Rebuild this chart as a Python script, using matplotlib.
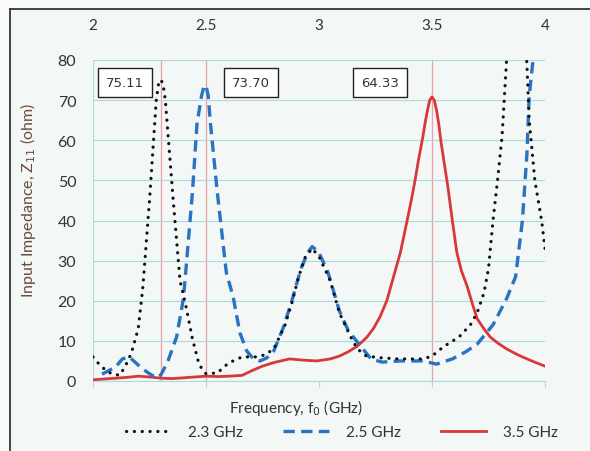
"""
Input impedance Z11 vs frequency for three antenna designs (2.3 / 2.5 / 3.5 GHz).
"""

import matplotlib

matplotlib.use("Agg")
import matplotlib.pyplot as plt
from matplotlib.lines import Line2D

plt.rcParams["font.family"] = ["Lato", "DejaVu Sans"]

# --- data --------------------------------------------------------------------
F_23 = [2.00, 2.03, 2.06, 2.09, 2.12, 2.15, 2.17, 2.20, 2.22, 2.25, 2.28, 2.29,
        2.30, 2.31, 2.32, 2.355, 2.385, 2.41, 2.44, 2.47, 2.50, 2.55, 2.60, 2.66,
        2.72, 2.76, 2.80, 2.85, 2.88, 2.91, 2.94, 2.97, 3.00, 3.05, 3.09, 3.14,
        3.17, 3.21, 3.27, 3.35, 3.46, 3.50, 3.55, 3.62, 3.67, 3.70, 3.73, 3.75,
        3.77, 3.79, 3.81, 3.83, 3.86, 3.89, 3.92, 3.93, 3.955, 3.985, 4.00]
Z_23 = [6.0, 4.0, 2.5, 1.6, 1.5, 4.5, 7.0, 13.0, 23.0, 45.0, 70.0, 74.0,
        75.1, 74.0, 70.0, 45.0, 25.0, 19.0, 10.5, 4.0, 1.8, 2.0, 4.5, 6.0,
        6.0, 6.5, 8.0, 14.0, 19.5, 26.0, 31.0, 33.0, 31.0, 25.0, 17.0, 11.0,
        8.0, 6.2, 5.8, 5.5, 5.5, 6.2, 8.5, 11.0, 14.0, 17.0, 22.0, 28.0,
        40.0, 50.0, 61.0, 80.0, 105.0, 105.0, 79.0, 65.0, 50.0, 40.0, 33.0]

F_25 = [2.04, 2.10, 2.13, 2.16, 2.19, 2.22, 2.25, 2.28, 2.30, 2.33, 2.37, 2.40,
        2.41, 2.44, 2.46, 2.48, 2.49, 2.50, 2.51, 2.52, 2.55, 2.59, 2.62, 2.65,
        2.68, 2.71, 2.74, 2.77, 2.80, 2.84, 2.88, 2.92, 2.95, 2.97, 3.00, 3.04,
        3.09, 3.13, 3.17, 3.23, 3.28, 3.36, 3.46, 3.52, 3.59, 3.65, 3.70, 3.77,
        3.83, 3.87, 3.90, 3.92, 3.93, 3.947, 3.97, 4.00]
Z_25 = [1.7, 3.5, 5.5, 6.0, 4.5, 3.0, 1.8, 0.8, 1.5, 4.7, 11.0, 20.5,
        27.0, 47.0, 64.0, 71.0, 73.2, 73.7, 71.0, 64.0, 47.0, 27.0, 21.0, 12.0,
        7.5, 5.5, 5.0, 5.8, 7.5, 13.0, 20.0, 28.0, 32.0, 33.5, 32.0, 27.0,
        17.5, 12.5, 9.7, 5.5, 4.7, 5.0, 5.0, 4.2, 5.5, 7.3, 9.2, 14.0,
        20.5, 26.0, 40.0, 56.6, 71.0, 80.0, 100.0, 130.0]

F_35 = [2.00, 2.05, 2.10, 2.15, 2.20, 2.25, 2.30, 2.35, 2.40, 2.45, 2.50, 2.55,
        2.60, 2.66, 2.70, 2.75, 2.80, 2.87, 2.93, 2.99, 3.05, 3.09, 3.13, 3.17,
        3.21, 3.24, 3.27, 3.30, 3.33, 3.36, 3.39, 3.41, 3.425, 3.44, 3.46, 3.47,
        3.48, 3.49, 3.50, 3.51, 3.52, 3.53, 3.54, 3.555, 3.57, 3.59, 3.61, 3.63,
        3.655, 3.68, 3.70, 3.73, 3.757, 3.79, 3.83, 3.87, 3.90, 3.95, 4.00]
Z_35 = [0.3, 0.5, 0.7, 0.9, 1.2, 1.0, 0.7, 0.6, 0.8, 1.0, 1.2, 1.1,
        1.2, 1.4, 2.5, 3.7, 4.6, 5.5, 5.2, 5.0, 5.5, 6.2, 7.3, 8.7,
        10.8, 13.0, 16.0, 20.0, 26.0, 32.0, 40.0, 45.5, 50.0, 55.0, 61.0, 64.5,
        67.5, 70.0, 70.8, 70.0, 67.5, 64.0, 59.5, 54.0, 48.5, 40.0, 32.0, 27.5,
        23.7, 19.0, 15.5, 13.0, 11.0, 9.5, 8.0, 6.8, 6.0, 4.8, 3.7]

SERIES_LABELS = ["2.3 GHz", "2.5 GHz", "3.5 GHz"]
MARKER_FREQS = [2.3, 2.5, 3.5]
PEAK_TEXTS = ["75.11", "73.70", "64.33"]
PEAK_TEXT_POS = [(2.14, 74.3), (2.70, 74.3), (3.27, 74.3)]
X_TICKS = [2, 2.5, 3, 3.5, 4]
X_TICK_LABELS = ["2", "2.5", "3", "3.5", "4"]
Y_TICKS = [0, 10, 20, 30, 40, 50, 60, 70, 80]

BG = "#f3f7f6"
TXT = "#333333"
GRID = "#a9dcdf"


def main() -> None:
    fig = plt.figure(figsize=(5.9, 4.52), dpi=100, facecolor="#fbfbfb")
    # panel background + frame (only top/left edges are visible in the crop)
    fig.patches.append(plt.Rectangle((10 / 590, -0.1), 1.2, 1 - 10 / 452 + 0.1,
                                     transform=fig.transFigure, facecolor=BG,
                                     edgecolor="none", zorder=-5))
    fig.add_artist(Line2D([10 / 590, 10 / 590], [-0.01, 1 - 10 / 452],
                          color="#2f3b30", lw=1.3))
    fig.add_artist(Line2D([10 / 590, 1.01], [1 - 10 / 452, 1 - 10 / 452],
                          color="#2f3b30", lw=1.3))

    ax = fig.add_axes([93 / 590, 1 - 382 / 452, (545 - 93) / 590, (382 - 61) / 452])
    ax.set_facecolor(BG)

    for f in MARKER_FREQS:
        ax.axvline(f, color="#eaa3a3", lw=0.9, zorder=1)

    ax.plot(F_23, Z_23, color="#111111", lw=2.3, linestyle=(0, (0.05, 2.4)),
            dash_capstyle="round", label=SERIES_LABELS[0], zorder=4)
    ax.plot(F_25, Z_25, color="#2a72c2", lw=2.4, linestyle=(0, (3.4, 1.9)),
            label=SERIES_LABELS[1], zorder=3)
    ax.plot(F_35, Z_35, color="#d8383a", lw=2.0, label=SERIES_LABELS[2], zorder=2)

    for txt, (x, y) in zip(PEAK_TEXTS, PEAK_TEXT_POS):
        ax.text(x, y, txt, ha="center", va="center", fontsize=9.5, color=TXT,
                family=["DejaVu Sans"],
                bbox=dict(boxstyle="square,pad=0.6", facecolor="white",
                          edgecolor="#222222", lw=1.0), zorder=6)

    ax.set_xlim(2, 4)
    ax.set_ylim(0, 80)
    ax.set_yticks(Y_TICKS)
    ax.set_xticks(X_TICKS)
    ax.set_xticklabels(X_TICK_LABELS)
    ax.grid(True, axis="y", color=GRID, lw=0.8)
    ax.axvline(2, color=GRID, lw=0.8, zorder=0)

    for side in ("top", "right", "left"):
        ax.spines[side].set_visible(False)
    ax.spines["bottom"].set_color(GRID)
    ax.spines["bottom"].set_linewidth(0.8)

    ax.tick_params(axis="x", which="major", bottom=True, top=False,
                   labelbottom=False, labeltop=True, length=4, color=GRID,
                   pad=16, labelsize=11, labelcolor=TXT)
    ax.tick_params(axis="y", which="major", left=False, length=0, pad=12,
                   labelsize=11.5, labelcolor=TXT)

    fig.text(28 / 590, 1 - 200 / 452, r"Input Impedance, Z$_{11}$ (ohm)",
             rotation=90, ha="center", va="center", fontsize=11.5, color="#6a4a3c")
    fig.text(296 / 590, 1 - 408 / 452, r"Frequency, f$_0$ (GHz)",
             ha="center", va="center", fontsize=11, color=TXT)

    fig.legend(loc="center", bbox_to_anchor=(342 / 590, 1 - 433 / 452), ncol=3,
               frameon=False, fontsize=11, handlelength=3.0, handletextpad=1.1,
               columnspacing=2.6, labelcolor=TXT)

    fig.savefig("out.png", dpi=100, facecolor=fig.get_facecolor())
    plt.close(fig)


if __name__ == "__main__":
    main()
